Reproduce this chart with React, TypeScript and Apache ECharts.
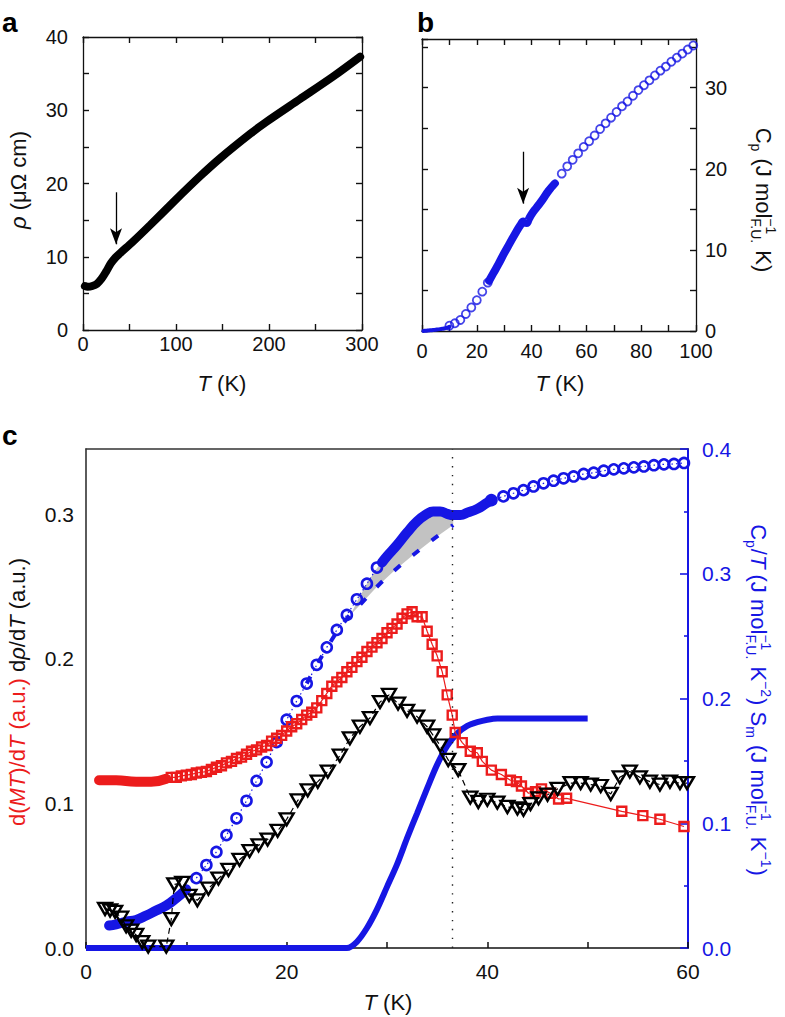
import React, { useEffect, useRef } from 'react';
import * as echarts from 'echarts';

const FONT = '"Liberation Sans", Arial, Helvetica, sans-serif';
const BLUE = '#1616e4';
const RED = '#ec1c1c';
const INK = '#111111';

// ---------- panel a : resistivity ----------
const rhoT = [2, 5, 10, 15, 20, 25, 30, 35, 40, 54, 72, 99, 126, 147, 180, 197, 233, 269, 298];
const rhoV = [6.0, 5.9, 6.0, 6.3, 7.0, 8.0, 9.1, 9.9, 10.5, 12.1, 14.3, 17.7, 21.0, 23.4, 26.8, 28.4, 31.5, 34.6, 37.3];
const arrowA = [[35.5, 18.8], [35.5, 11.7]];

// ---------- panel b : heat capacity ----------
const cpLowT = [0.5, 1, 2, 3, 4, 5, 6, 7, 8, 9, 10];
const cpLowV = [0.0, 0.02, 0.05, 0.08, 0.12, 0.16, 0.2, 0.25, 0.3, 0.38, 0.5];
const cpCirc1T = [10, 12, 14, 16, 18, 20, 22, 24];
const cpCirc1V = [0.65, 0.95, 1.36, 2.1, 2.9, 3.8, 4.85, 5.96];
const cpBandT = [24.5, 26, 28, 30, 32, 34, 36, 37, 37.6, 38.2, 39, 40, 42, 44, 46, 48.5];
const cpBandV = [6.2, 7.1, 8.3, 9.6, 10.8, 12.0, 13.1, 13.5, 13.35, 13.3, 13.8, 14.4, 15.3, 16.2, 17.2, 18.2];
const cpCirc2T = [51, 53, 55, 57, 59, 61, 63, 65, 67, 69, 71, 73, 75, 77, 79, 81, 83, 85, 87, 89, 91, 93, 95, 97, 99];
const cpCirc2V = [19.4, 20.3, 21.1, 21.9, 22.7, 23.4, 24.1, 24.9, 25.6, 26.3, 27.0, 27.7, 28.3, 29.0, 29.7, 30.3, 30.9, 31.5, 32.1, 32.6, 33.2, 33.7, 34.2, 34.7, 35.2];
const arrowB = [[36.9, 22.1], [36.9, 15.7]];

// ---------- panel c ----------
const cptBandLoT = [2.3, 3, 4, 5, 6, 7, 8, 9, 10];
const cptBandLoV = [0.018, 0.019, 0.021, 0.0225, 0.026, 0.03, 0.034, 0.04, 0.047];
const cptCircLoT = [11, 12, 13, 14, 15, 16, 17, 18, 19, 20, 21, 22, 23, 24, 25, 26, 27, 28, 29];
const cptCircLoV = [0.056, 0.0665, 0.077, 0.0905, 0.104, 0.118, 0.134, 0.149, 0.165, 0.183, 0.198, 0.212, 0.227, 0.241, 0.255, 0.267, 0.2795, 0.292, 0.305];
const cptBandHiT = [29.5, 30, 31, 32, 33, 34, 34.6, 35.3, 36, 36.6, 37.3, 38, 39, 40, 40.5];
const cptBandHiV = [0.309, 0.314, 0.323, 0.333, 0.342, 0.348, 0.35, 0.35, 0.348, 0.347, 0.347, 0.349, 0.352, 0.357, 0.359];
const cptCircHiT = [40.4, 41.6, 42.6, 43.6, 44.6, 45.6, 46.6, 47.6, 48.6, 49.6, 50.6, 51.6, 52.6, 53.6, 54.6, 55.6, 56.6, 57.6, 58.6, 59.6];
const cptCircHiV = [0.359, 0.362, 0.3645, 0.367, 0.37, 0.3725, 0.3746, 0.3765, 0.378, 0.38, 0.381, 0.3826, 0.3837, 0.3845, 0.3853, 0.386, 0.387, 0.3877, 0.388, 0.3888];
const phT = [22, 24, 26, 27.3, 29, 30.8, 32.6, 34.5, 36.6];
const phV = [0.212, 0.2405, 0.264, 0.275, 0.2896, 0.303, 0.315, 0.327, 0.339];
const grayTopT = [26.3, 27.2, 28.1, 29.1, 30, 31, 32, 33, 34, 35, 36, 36.6];
const grayTopV = [0.266, 0.2805, 0.2936, 0.3056, 0.314, 0.323, 0.333, 0.342, 0.348, 0.35, 0.348, 0.347];
const smT = [0, 26, 27, 28, 29, 30, 31, 32, 33, 34, 35, 36, 37, 38, 39, 40, 41, 42, 50];
const smV = [0, 0, 0.005, 0.016, 0.031, 0.049, 0.067, 0.088, 0.108, 0.128, 0.147, 0.162, 0.172, 0.178, 0.181, 0.183, 0.184, 0.184, 0.184];
const mtBandT = [1.3, 3, 5, 6.5, 8];
const mtBandV = [0.116, 0.116, 0.115, 0.115, 0.117];
const mtT = [8.5, 9, 9.5, 10, 10.5, 11, 11.5, 12, 12.5, 13, 13.5, 14, 14.5, 15, 15.5, 16, 16.5, 17, 17.5, 18, 18.5, 19, 19.5, 20, 20.5, 21, 21.5, 22, 22.5, 23, 23.5, 24, 24.5, 25, 25.5, 26, 26.5, 27, 27.5, 28, 28.5, 29, 29.5, 30, 30.5, 31, 31.5, 32, 32.5, 33, 33.5, 34, 34.5, 35, 35.5, 36, 36.5, 36.8, 37.5, 38.3, 39, 39.5, 40.4, 41.4, 42.3, 42.9, 43.4, 44.1, 44.8, 45.4, 46.3, 47.1, 47.9, 53.4, 55.5, 57.2, 59.6];
const mtV = [0.118, 0.118, 0.119, 0.1195, 0.12, 0.121, 0.1215, 0.122, 0.1235, 0.125, 0.126, 0.128, 0.129, 0.131, 0.132, 0.134, 0.136, 0.137, 0.139, 0.14, 0.143, 0.145, 0.147, 0.15, 0.153, 0.155, 0.158, 0.161, 0.163, 0.166, 0.171, 0.176, 0.181, 0.184, 0.187, 0.191, 0.194, 0.198, 0.201, 0.205, 0.208, 0.211, 0.214, 0.218, 0.221, 0.224, 0.228, 0.231, 0.2325, 0.229, 0.229, 0.219, 0.21, 0.202, 0.191, 0.175, 0.161, 0.149, 0.142, 0.136, 0.135, 0.129, 0.123, 0.12, 0.116, 0.115, 0.112, 0.107, 0.108, 0.11, 0.107, 0.103, 0.1035, 0.0945, 0.0915, 0.089, 0.084];
const drT = [1.9, 2.4, 2.9, 3.5, 4.0, 4.5, 5.0, 5.6, 6.2, 8.0, 8.5, 8.8, 9.6, 10.3, 11.1, 12.2, 13.2, 14.2, 15.3, 16.3, 17.2, 18.1, 19.1, 20.0, 21.1, 22.1, 23.1, 24.1, 25.3, 26.3, 27.3, 28.3, 29.3, 30.2, 31.1, 32.0, 33.0, 34.0, 34.6, 35.3, 36.1, 37.1, 38.3, 39.1, 40.0, 41.0, 42.0, 43.0, 43.6, 44.3, 45.1, 46.0, 47.0, 48.3, 49.3, 50.3, 51.3, 52.3, 53.2, 54.2, 55.2, 56.2, 57.2, 58.2, 59.2, 59.9];
const drV = [0.027, 0.026, 0.025, 0.021, 0.015, 0.012, 0.009, 0.004, 0.001, 0.001, 0.02, 0.044, 0.045, 0.036, 0.033, 0.041, 0.048, 0.054, 0.061, 0.067, 0.071, 0.075, 0.081, 0.089, 0.102, 0.109, 0.115, 0.122, 0.133, 0.145, 0.153, 0.159, 0.17, 0.175, 0.169, 0.164, 0.16, 0.153, 0.147, 0.14, 0.13, 0.123, 0.104, 0.101, 0.1025, 0.1005, 0.0975, 0.0965, 0.0955, 0.0995, 0.1035, 0.106, 0.11, 0.114, 0.114, 0.113, 0.112, 0.1065, 0.118, 0.122, 0.118, 0.115, 0.113, 0.115, 0.114, 0.114];
const tN = 36.5;

const zip = (xs: number[], ys: number[]) => xs.map((x, i) => [x, ys[i]]);

const cvs = typeof document !== 'undefined' ? document.createElement('canvas') : null;
const c2d = cvs ? cvs.getContext('2d') : null;
function tw(t: string, size: number, italic = false) {
  if (!c2d) return t.length * size * 0.55;
  c2d.font = `${italic ? 'italic ' : ''}${size}px ${FONT}`;
  return c2d.measureText(t).width;
}
type Piece = { t?: string; i?: boolean; c?: string; sub?: string; sup?: string };
function richLabel(pieces: Piece[], cx: number, cy: number, rotation: number, color: string, size: number) {
  const ss = Math.round(size * 0.64);
  const items: any[] = [];
  let x = 0;
  const mk = (text: string, px: number, py: number, fs: number, italic: boolean, col: string) => ({
    type: 'text', x: px, y: py,
    style: {
      text, fontSize: fs, fontFamily: FONT, fontStyle: italic ? 'italic' : 'normal', fill: col,
      align: 'left', verticalAlign: 'middle', textAlign: 'left', textVerticalAlign: 'middle',
    },
  });
  for (const p of pieces) {
    const col = p.c || color;
    if (p.t !== undefined) {
      items.push(mk(p.t, x, 0, size, !!p.i, col));
      x += tw(p.t, size, !!p.i);
    } else {
      let w = 0;
      if (p.sup) { items.push(mk(p.sup, x, -size * 0.36, ss, false, col)); w = Math.max(w, tw(p.sup, ss)); }
      if (p.sub) { items.push(mk(p.sub, x, size * 0.34, ss, false, col)); w = Math.max(w, tw(p.sub, ss)); }
      x += w + 1;
    }
  }
  const half = x / 2;
  items.forEach((it) => { it.x -= half; });
  return { type: 'group', x: cx, y: cy, rotation, children: items, z: 100 };
}

const every = (step: number, dec = 0) => (v: number) => {
  const r = v / step;
  return Math.abs(r - Math.round(r)) < 1e-6 ? v.toFixed(dec) : '';
};

const tk = (color = INK, length = 6, width = 1.4) => ({ show: true, inside: true, length, lineStyle: { color, width } });

function ax(extra: any, color = INK, width = 1.3) {
  return {
    type: 'value',
    axisLine: { show: true, onZero: false, lineStyle: { color, width } },
    splitLine: { show: false },
    axisTick: tk(color),
    axisLabel: { show: false },
    ...extra,
  };
}
const lbl = (fmt: any, margin: number, color = INK, size = 20) => ({
  show: true, formatter: fmt, margin, color, fontSize: size, fontFamily: FONT,
});

const hollow = (col: string, bw: number) => ({ color: 'rgba(0,0,0,0)', borderColor: col, borderWidth: bw });

function buildOption(): any {
  const xAxis = [
    ax({ gridIndex: 0, position: 'bottom', min: 0, max: 300, interval: 50, axisLabel: lbl(every(100), 4) }),
    ax({ gridIndex: 0, position: 'top', min: 0, max: 300, interval: 50 }),
    ax({ gridIndex: 1, position: 'bottom', min: 0, max: 100, interval: 10, axisLabel: lbl(every(20), 10) }),
    ax({ gridIndex: 1, position: 'top', min: 0, max: 100, interval: 10 }),
    ax({ gridIndex: 2, position: 'bottom', min: 0, max: 60, interval: 10, axisTick: tk(INK, 6, 1.5), axisLabel: lbl(every(20), 13, INK, 21) }, INK, 1.5),
    ax({ gridIndex: 2, position: 'top', min: 0, max: 60, interval: 10, axisTick: { show: false } }, '#333', 1.6),
  ];
  const yAxis = [
    ax({ gridIndex: 0, position: 'left', min: 0, max: 40, interval: 5, axisLabel: lbl(every(10), 15) }),
    ax({ gridIndex: 0, position: 'right', min: 0, max: 40, interval: 5 }),
    ax({ gridIndex: 1, position: 'left', min: 0, max: 36, interval: 5 }),
    ax({ gridIndex: 1, position: 'right', min: 0, max: 36, interval: 5, axisLabel: lbl(every(10), 9) }),
    ax({ gridIndex: 2, position: 'left', min: 0, max: 0.345, interval: 0.1, axisTick: { show: false }, axisLabel: lbl(every(0.1, 1), 12, INK, 21) }, '#333', 1.6),
    ax({
      gridIndex: 2, position: 'right', min: 0, max: 0.4, interval: 0.1,
      axisTick: tk(BLUE, 8, 1.6),
      minorTick: { show: true, splitNumber: 2, length: 4, lineStyle: { color: BLUE, width: 1.6 } },
      axisLabel: lbl(every(0.1, 1), 14, BLUE, 21),
    }, BLUE, 2),
  ];

  const arrowMark = (pts: number[][]) => ({
    silent: true, symbol: ['none', 'arrow'], symbolSize: [9, 16], label: { show: false },
    lineStyle: { color: '#000', width: 1.3, type: 'solid' },
    data: [[{ coord: pts[0] }, { coord: pts[1] }]],
  });

  const series: any[] = [
    // a
    {
      type: 'line', xAxisIndex: 0, yAxisIndex: 0, data: zip(rhoT, rhoV), smooth: 0.3, symbol: 'none',
      lineStyle: { color: '#000', width: 8, cap: 'round' }, markLine: arrowMark(arrowA), clip: false,
    },
    // b
    { type: 'line', xAxisIndex: 2, yAxisIndex: 3, data: zip(cpLowT, cpLowV), smooth: true, symbol: 'none', lineStyle: { color: BLUE, width: 4, cap: 'round' }, clip: false },
    { type: 'scatter', xAxisIndex: 2, yAxisIndex: 3, data: zip(cpCirc1T, cpCirc1V), symbol: 'circle', symbolSize: 8, itemStyle: hollow(BLUE, 1.8) },
    { type: 'line', xAxisIndex: 2, yAxisIndex: 3, data: zip(cpBandT, cpBandV), smooth: true, symbol: 'none', lineStyle: { color: BLUE, width: 8, cap: 'round' }, markLine: arrowMark(arrowB) },
    { type: 'scatter', xAxisIndex: 2, yAxisIndex: 3, data: zip(cpCirc2T, cpCirc2V), symbol: 'circle', symbolSize: 8, itemStyle: hollow(BLUE, 1.8), clip: false },
    // c : shaded area between Cp/T and phonon background
    {
      type: 'custom', xAxisIndex: 4, yAxisIndex: 5, data: [[30, 0.3]], silent: true, z: 1,
      renderItem: (_p: any, api: any) => {
        const top = zip(grayTopT, grayTopV).map((d) => api.coord(d));
        const bot = zip(phT, phV).filter((d) => d[0] >= 26).map((d) => api.coord(d)).reverse();
        return { type: 'polygon', shape: { points: [...top, ...bot] }, style: { fill: '#c2c2c2' } };
      },
    },
    { type: 'line', xAxisIndex: 4, yAxisIndex: 5, data: zip(phT, phV), smooth: true, symbol: 'none', lineStyle: { color: BLUE, width: 4, type: [8, 16] } },
    {
      type: 'line', xAxisIndex: 4, yAxisIndex: 5, data: zip(smT, smV), smooth: 0.3, symbol: 'none',
      lineStyle: { color: BLUE, width: 6 }, clip: false,
      markLine: {
        silent: true, symbol: ['none', 'none'], label: { show: false },
        lineStyle: { color: '#222', width: 1.4, type: [1.4, 7.5] }, data: [{ xAxis: tN }],
      },
    },
    { type: 'line', xAxisIndex: 4, yAxisIndex: 5, data: zip(cptBandLoT, cptBandLoV), smooth: true, symbol: 'none', lineStyle: { color: BLUE, width: 10, cap: 'round' } },
    {
      type: 'line', xAxisIndex: 4, yAxisIndex: 5, data: zip(cptCircLoT, cptCircLoV), symbol: 'circle', symbolSize: 10, showAllSymbol: true,
      itemStyle: hollow(BLUE, 2.6), lineStyle: { color: BLUE, width: 1.2, type: [1.5, 3] },
    },
    { type: 'line', xAxisIndex: 4, yAxisIndex: 5, data: zip(cptBandHiT, cptBandHiV), smooth: true, symbol: 'none', lineStyle: { color: BLUE, width: 10, cap: 'round' } },
    {
      type: 'line', xAxisIndex: 4, yAxisIndex: 5, data: zip(cptCircHiT, cptCircHiV), symbol: 'circle', symbolSize: 10, showAllSymbol: true,
      itemStyle: hollow(BLUE, 2.6), lineStyle: { color: BLUE, width: 1.2, type: [1.5, 3] }, clip: false,
    },
    { type: 'line', xAxisIndex: 4, yAxisIndex: 4, data: zip(mtBandT, mtBandV), smooth: true, symbol: 'none', lineStyle: { color: RED, width: 10, cap: 'round' } },
    {
      type: 'line', xAxisIndex: 4, yAxisIndex: 4, data: zip(mtT, mtV), symbol: 'rect', symbolSize: 9, showAllSymbol: true,
      itemStyle: hollow(RED, 2.4), lineStyle: { color: RED, width: 1.2 }, clip: false,
    },
    {
      type: 'line', xAxisIndex: 4, yAxisIndex: 4, data: zip(drT, drV), symbol: 'triangle', symbolRotate: 180, symbolSize: [14, 12], showAllSymbol: true,
      itemStyle: hollow('#000', 2.4), lineStyle: { color: '#000', width: 1.2, type: [6, 4] }, clip: false,
    },
  ];

  const TS = 22;
  const letter = (t: string, x: number, y: number) => ({
    type: 'text', x, y, z: 100,
    style: { text: t, fontSize: 28, fontWeight: 'bold', fontFamily: FONT, fill: '#000', verticalAlign: 'middle', textVerticalAlign: 'middle' },
  });
  const graphic = [
    letter('a', 2, 22), letter('b', 417, 22), letter('c', 2, 435),
    richLabel([{ t: 'ρ', i: true }, { t: ' (μΩ cm)' }], 18, 180, Math.PI / 2, INK, TS),
    richLabel([{ t: 'T', i: true }, { t: ' (K)' }], 222, 383, 0, INK, TS),
    richLabel([{ t: 'T', i: true }, { t: ' (K)' }], 560, 383, 0, INK, TS),
    richLabel([{ t: 'C' }, { sub: 'p' }, { t: ' (J mol' }, { sup: '−1', sub: 'F.U.' }, { t: ' K)' }], 763, 200, -Math.PI / 2, INK, TS),
    richLabel([{ t: 'T', i: true }, { t: ' (K)' }], 388, 1002, 0, INK, TS),
    richLabel([
      { t: 'd(', c: RED }, { t: 'MT', i: true, c: RED }, { t: ')/d', c: RED }, { t: 'T', i: true, c: RED }, { t: ' (a.u.) ', c: RED },
      { t: 'd' }, { t: 'ρ', i: true }, { t: '/d' }, { t: 'T', i: true }, { t: ' (a.u.)' },
    ], 17, 692, Math.PI / 2, INK, TS),
    richLabel([
      { t: 'C' }, { sub: 'p' }, { t: '/' }, { t: 'T', i: true }, { t: ' (J mol' }, { sup: '−1', sub: 'F.U.' }, { t: ' K' }, { sup: '−2' },
      { t: ') S' }, { sub: 'm' }, { t: ' (J mol' }, { sup: '−1', sub: 'F.U.' }, { t: ' K' }, { sup: '−1' }, { t: ')' },
    ], 758, 700, -Math.PI / 2, BLUE, TS),
  ];

  return {
    animation: false,
    backgroundColor: '#ffffff',
    textStyle: { fontFamily: FONT },
    grid: [
      { left: 83, top: 37, width: 279, height: 293 },
      { left: 422, top: 39, width: 274, height: 292 },
      { left: 86, top: 449, width: 602, height: 499 },
    ],
    xAxis, yAxis, series, graphic,
  };
}

export default function App() {
  const ref = useRef<HTMLDivElement>(null);
  useEffect(() => {
    document.body.style.margin = '0';
    const chart = echarts.init(ref.current as HTMLDivElement, null, { renderer: 'svg' });
    chart.setOption(buildOption());
    return () => chart.dispose();
  }, []);
  return <div ref={ref} style={{ width: 785, height: 1017 }} />;
}
